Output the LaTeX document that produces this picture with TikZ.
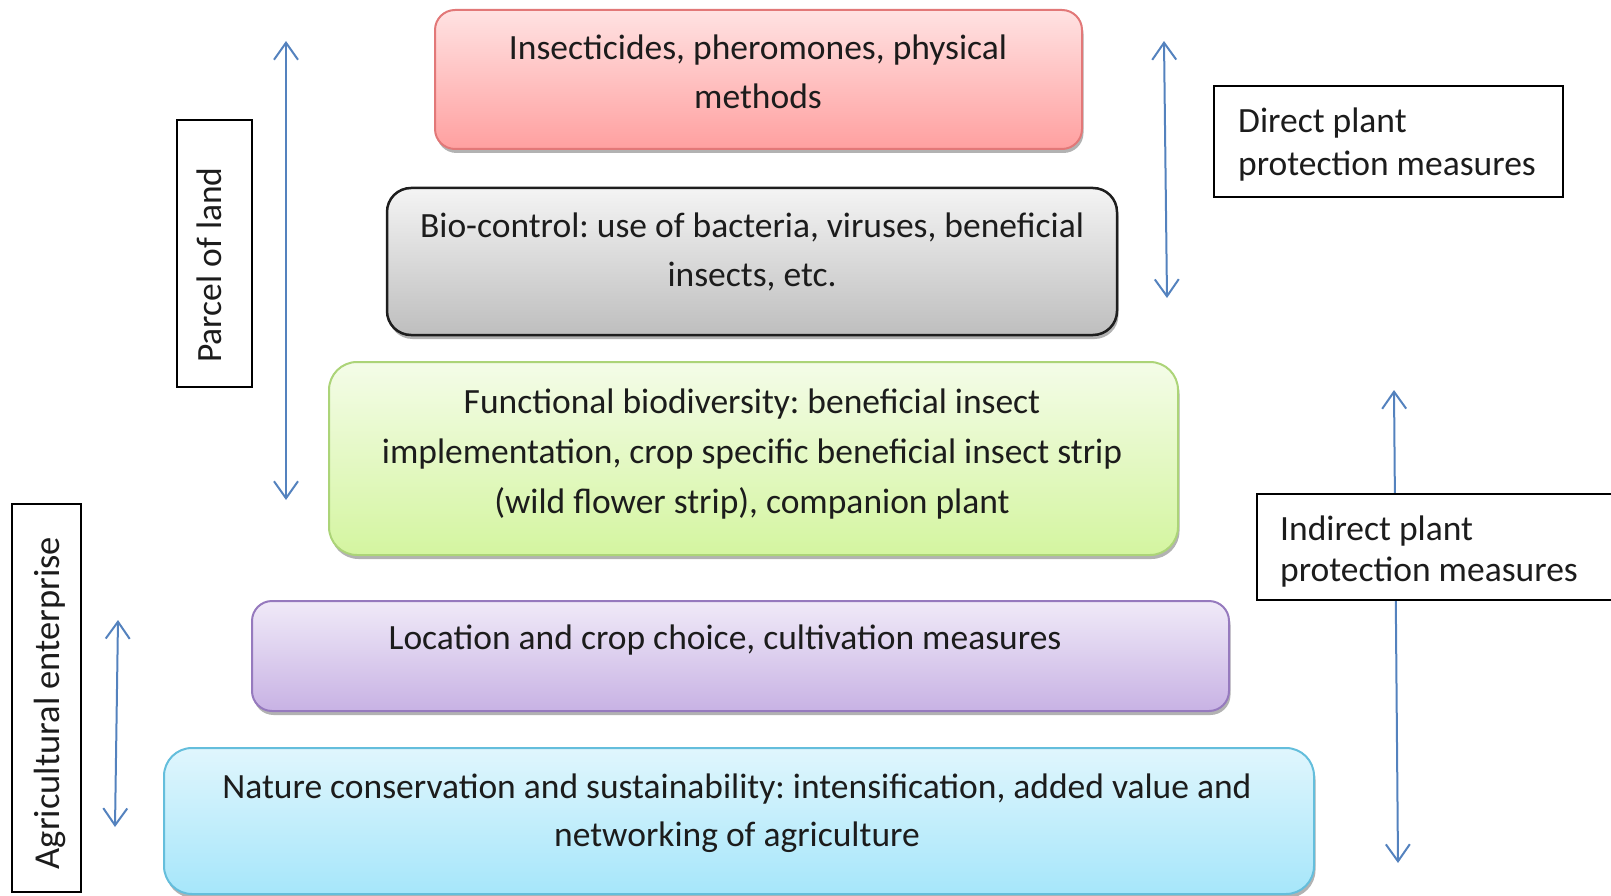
\documentclass[tikz,border=0pt]{standalone}
\usepackage{fontspec}
\setmainfont{Carlito}
\usetikzlibrary{arrows.meta,shadows}
\frenchspacing

\definecolor{txtcol}{RGB}{28,28,28}
\definecolor{arrcol}{RGB}{84,130,190}
\definecolor{redtop}{RGB}{255,226,226}
\definecolor{redbot}{RGB}{255,160,160}
\definecolor{redline}{RGB}{226,120,120}
\definecolor{graytop}{RGB}{244,244,244}
\definecolor{graybot}{RGB}{190,190,190}
\definecolor{grayline}{RGB}{30,30,30}
\definecolor{greentop}{RGB}{244,252,232}
\definecolor{greenbot}{RGB}{212,245,160}
\definecolor{greenline}{RGB}{172,212,120}
\definecolor{purptop}{RGB}{240,234,248}
\definecolor{purpbot}{RGB}{200,178,228}
\definecolor{purpline}{RGB}{150,122,190}
\definecolor{bluetop}{RGB}{224,246,253}
\definecolor{bluebot}{RGB}{166,230,250}
\definecolor{blueline}{RGB}{100,190,220}

\begin{document}
\begin{tikzpicture}[x=1pt,y=-1pt,
  layer/.style={rectangle, line width=2pt, inner sep=0pt, outer sep=0pt,
    drop shadow={shadow xshift=1.5pt, shadow yshift=-4pt, opacity=0.3, fill=black}},
  txt/.style={font=\fontsize{35.5}{48.5}\selectfont, align=center, text=txtcol, inner sep=0pt},
  sidebox/.style={rectangle, draw=black, line width=2pt, fill=white, inner sep=0pt},
  sidetxt/.style={font=\fontsize{35.5}{43}\selectfont, text=txtcol, inner sep=0pt},
  arr/.style={draw=arrcol, line width=2pt,
    {Straight Barb[length=17pt,width=24pt]}-{Straight Barb[length=17pt,width=24pt]}}
]
\useasboundingbox (0,0) rectangle (1611,896);

% stacked layers of plant protection, top to bottom
\node[layer, rounded corners=20pt, top color=redtop, bottom color=redbot, draw=redline,
      minimum width=647pt, minimum height=139pt] (pests) at (758.5,79.5) {};
\node[txt] (pestst) at (758,72) {Insecticides, pheromones, physical\\methods};

\node[layer, rounded corners=24pt, top color=graytop, bottom color=graybot, draw=grayline,
      line width=2.5pt, minimum width=730pt, minimum height=147pt] (bio) at (752,261.5) {};
\node[txt] (biot) at (752,252) {Bio-control: use of bacteria, viruses, beneficial\\insects, etc.};

\node[layer, rounded corners=28pt, top color=greentop, bottom color=greenbot, draw=greenline,
      minimum width=849pt, minimum height=193pt] (func) at (753.5,458.5) {};
\node[txt, font=\fontsize{35.5}{50}\selectfont] (funct) at (752,454.5) {Functional biodiversity: beneficial insect\\implementation, crop specific beneficial insect strip\\(wild flower strip), companion plant};

\node[layer, rounded corners=20pt, top color=purptop, bottom color=purpbot, draw=purpline,
      minimum width=977pt, minimum height=110pt] (loc) at (740.5,656) {};
\node[txt] (loct) at (725,640) {Location and crop choice, cultivation measures};

\node[layer, rounded corners=28pt, top color=bluetop, bottom color=bluebot, draw=blueline,
      minimum width=1150pt, minimum height=146pt] (nat) at (739,821) {};
\node[txt] (natt) at (737,813) {Nature conservation and sustainability: intensification, added value and\\networking of agriculture};

% scale arrows
\coordinate (pt) at (286,41);
\coordinate (pb) at (286,500);
\draw[arr] (pt) -- (pb);

\coordinate (dt) at (1164,41);
\coordinate (db) at (1167,298);
\draw[arr] (dt) -- (db);

\coordinate (at) at (118,620);
\coordinate (ab) at (115,827);
\draw[arr] (at) -- (ab);

\coordinate (it) at (1394,390);
\coordinate (ib) at (1398,863);
\draw[arr] (it) -- (ib);

% side labels
\node[sidebox, minimum width=75pt, minimum height=267pt] (parcelbox) at (214.5,253.5) {};
\node[sidetxt, rotate=90] (parcel) at (209,265) {Parcel of land};

\node[sidebox, minimum width=69pt, minimum height=388pt] (agribox) at (46.5,698) {};
\node[sidetxt, rotate=90, font=\fontsize{36.5}{43}\selectfont] (agri) at (50,703) {Agricultural enterprise};

\node[sidebox, minimum width=349pt, minimum height=111pt] (directbox) at (1388.5,141.5) {};
\node[sidetxt, anchor=west, align=left] (direct) at (1238,144.5) {Direct plant\\protection measures};

\node[sidebox, minimum width=356pt, minimum height=106pt] (indirectbox) at (1435,547) {};
\node[sidetxt, anchor=west, align=left, font=\fontsize{35.5}{41}\selectfont] (indirect) at (1280,551.5) {Indirect plant\\protection measures};
\end{tikzpicture}
\end{document}
